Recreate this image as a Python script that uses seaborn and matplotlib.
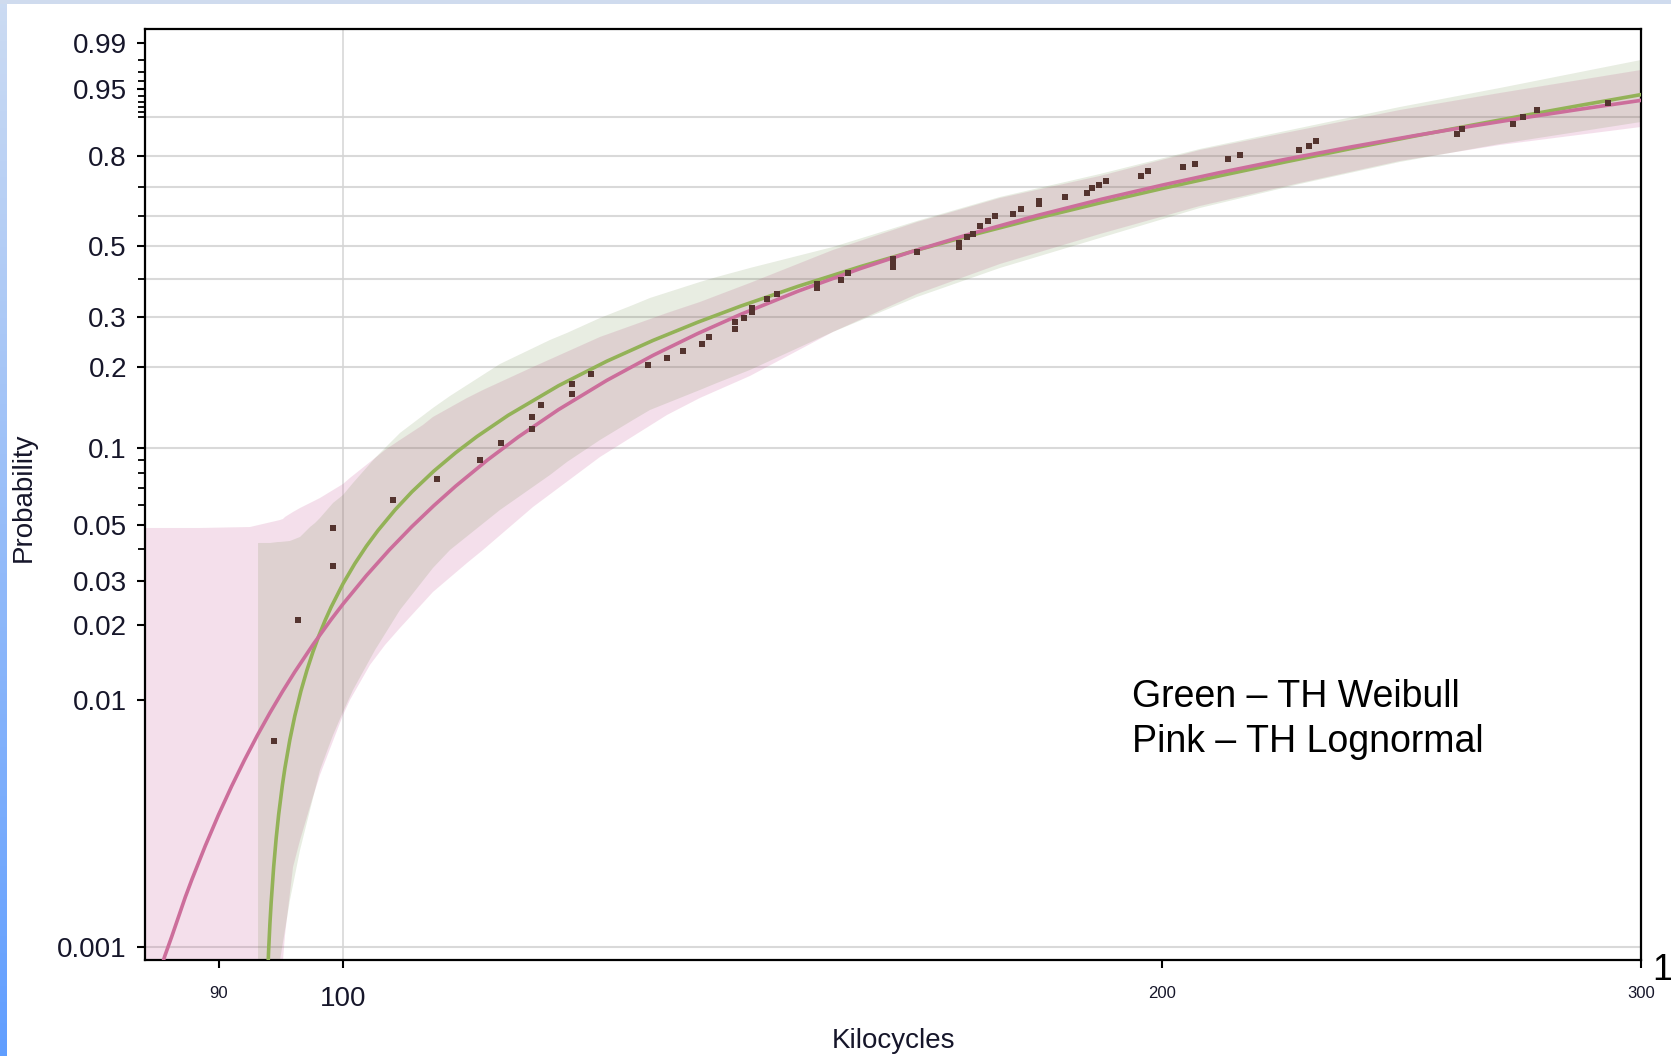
import numpy as np
import pandas as pd
import matplotlib
matplotlib.use("Agg")
import matplotlib.pyplot as plt
from matplotlib.ticker import FixedLocator, NullLocator, NullFormatter
import seaborn as sns

# ---------------------------------------------------------------- data
# failure times (kilocycles) with their plotting positions
fail_kc = [94.33, 96.26, 99.16, 99.16, 104.32, 108.28, 112.29, 114.31, 117.35, 117.35,
           118.24, 121.39, 121.39, 123.35, 129.45, 131.55, 133.34, 135.50, 136.31, 139.34,
           139.34, 140.41, 141.36, 141.36, 143.17, 144.38, 149.35, 149.35, 152.42, 153.32,
           159.28, 159.28, 159.28, 162.55, 168.43, 168.43, 169.57, 170.43, 171.45, 172.61,
           173.65, 176.31, 177.51, 180.23, 180.23, 184.24, 187.69, 188.49, 189.61, 190.74,
           196.47, 197.64, 203.58, 205.66, 211.48, 213.64, 224.59, 226.50, 227.85, 256.71,
           257.80, 269.17, 271.46, 274.69, 291.70]
fail_prob = [0.00681, 0.02092, 0.03438, 0.04865, 0.06271, 0.07576, 0.08973, 0.10434, 0.11801, 0.13102,
             0.14537, 0.15976, 0.17394, 0.18924, 0.20402, 0.21620, 0.22904, 0.24236, 0.25641, 0.27327,
             0.28867, 0.29780, 0.31199, 0.32170, 0.34442, 0.35752, 0.37370, 0.38473, 0.39600, 0.41618,
             0.43395, 0.44610, 0.45840, 0.48032, 0.49634, 0.50935, 0.52898, 0.53895, 0.56577, 0.58276,
             0.59979, 0.60666, 0.62376, 0.64100, 0.65127, 0.66491, 0.67860, 0.69551, 0.70564, 0.71898,
             0.73554, 0.75179, 0.76460, 0.77406, 0.78959, 0.80167, 0.81642, 0.82788, 0.84174, 0.86031,
             0.87278, 0.88469, 0.90032, 0.91468, 0.92775]

# fitted threshold-Weibull CDF
weib_kc = [93.8, 93.9, 94.0, 94.1, 94.3, 94.5, 94.7, 95.0, 95.2, 95.6, 96.0, 96.5, 97.0, 97.5,
           98.0, 98.5, 99.0, 100.0, 101.0, 102.0, 103.0, 104.5, 106.0, 108.0, 110.0, 112.0,
           115.0, 120.0, 125.0, 130.0, 135.0, 140.0, 147.0, 155.0, 162.0, 170.0, 180.0, 190.0,
           200.0, 210.0, 222.0, 235.0, 248.0, 260.0, 272.0, 285.0, 300.0]
weib_prob = [0.00072, 0.000971, 0.00124, 0.001515, 0.00211, 0.002755, 0.00344, 0.004525, 0.00529,
             0.006887, 0.00859, 0.010837, 0.01318, 0.015649, 0.018202, 0.02085, 0.02356, 0.02921,
             0.03510, 0.04123, 0.04753, 0.05731, 0.06745, 0.08137, 0.09571, 0.11040, 0.13291,
             0.17131, 0.21032, 0.24934, 0.28806, 0.32628, 0.37836, 0.43543, 0.48281, 0.53374,
             0.59252, 0.64575, 0.69350, 0.73594, 0.78044, 0.82137, 0.85559, 0.88193, 0.90391,
             0.92355, 0.94165]

# fitted threshold-lognormal CDF
logn_kc = [85.3, 85.6, 86.0, 86.5, 87.5, 88.0, 89.0, 90.0, 91.0, 92.0, 93.0, 94.0, 95.0, 96.0,
           97.5, 99.0, 100.0, 102.0, 104.0, 106.0, 108.0, 110.0, 113.0, 116.0, 120.0, 125.0,
           130.0, 135.0, 140.0, 147.0, 155.0, 162.0, 170.0, 180.0, 190.0, 200.0, 210.0, 222.0,
           235.0, 248.0, 260.0, 272.0, 285.0, 300.0]
logn_prob = [0.00068, 0.00078, 0.00092, 0.00110, 0.00159, 0.00188, 0.00257, 0.00343, 0.00447,
             0.00571, 0.00717, 0.00885, 0.01077, 0.01294, 0.01668, 0.02101, 0.02424, 0.03149,
             0.03984, 0.04925, 0.05963, 0.07100, 0.0897, 0.11008, 0.1396, 0.17918, 0.2208,
             0.26340, 0.3062, 0.36520, 0.4297, 0.48273, 0.5388, 0.60180, 0.6571, 0.70498,
             0.7465, 0.78843, 0.8260, 0.85662, 0.8798, 0.89911, 0.9163, 0.9323]

# confidence band of the Weibull fit
weib_band_kc = [93.06, 94.01, 94.65, 94.81, 95.61, 96.43, 97.25, 97.66, 98.07, 99.16, 100.0, 100.85,
                102.75, 104.94, 107.91, 109.48, 114.21, 119.15, 120.87, 124.30, 127.82, 129.67,
                135.27, 137.23, 141.12, 151.39, 162.55, 174.37, 189.77, 206.53, 224.77, 244.62,
                266.22, 300.0]
weib_band_lo = [1e-5, 1e-5, 1e-5, 0.000886, 0.00155, 0.00247, 0.00359, 0.00432, 0.00520, 0.00720,
                0.00892, 0.01094, 0.01585, 0.02294, 0.03375, 0.03981, 0.05728, 0.07851, 0.08815,
                0.10714, 0.12764, 0.13922, 0.16530, 0.17542, 0.19570, 0.26685, 0.34959, 0.43095,
                0.52568, 0.62722, 0.70899, 0.78031, 0.83350, 0.88929]
weib_band_hi = [0.04243, 0.04243, 0.04282, 0.04282, 0.04321, 0.04482, 0.04908, 0.05090, 0.05327,
                0.06102, 0.06559, 0.07308, 0.09134, 0.11394, 0.14166, 0.15705, 0.20567, 0.25029,
                0.26474, 0.29780, 0.32914, 0.34700, 0.39030, 0.40455, 0.43095, 0.49634, 0.58276,
                0.66491, 0.74205, 0.81932, 0.87521, 0.92043, 0.95131, 0.98025]

# confidence band of the lognormal fit
logn_band_kc = [84.57, 88.6, 92.43, 94.81, 95.05, 95.21, 95.86, 96.43, 97.41, 98.07, 100.0, 100.59,
                102.31, 103.62, 104.94, 107.00, 107.91, 111.07, 112.58, 117.45, 124.30, 131.55,
                135.27, 141.12, 151.39, 162.55, 174.37, 189.77, 206.53, 224.77, 244.62, 266.22, 300.0]
logn_band_lo = [1e-5, 1e-5, 1e-5, 1e-5, 0.000886, 0.00112, 0.00211, 0.00271, 0.00394, 0.00497,
                0.00867, 0.00997, 0.01380, 0.01660, 0.01943, 0.02447, 0.02707, 0.03534, 0.03981,
                0.05886, 0.09216, 0.13332, 0.15439, 0.18609, 0.26685, 0.35752, 0.44306, 0.53895,
                0.63408, 0.71237, 0.78341, 0.83068, 0.87766]
logn_band_hi = [0.04865, 0.04865, 0.04908, 0.05231, 0.05280, 0.05376, 0.05626, 0.05832, 0.06157,
                0.06384, 0.07242, 0.07644, 0.08815, 0.09806, 0.10714, 0.12221, 0.13102, 0.15439,
                0.16530, 0.20064, 0.25641, 0.30961, 0.33672, 0.38752, 0.48670, 0.57937, 0.66145,
                0.73554, 0.81642, 0.87032, 0.91468, 0.94412, 0.97199]

# axis ticks
y_ticks = [0.001, 0.01, 0.02, 0.03, 0.05, 0.1, 0.2, 0.3, 0.5, 0.8, 0.95, 0.99]
y_tick_labels = ["0.001", "0.01", "0.02", "0.03", "0.05", "0.1", "0.2", "0.3", "0.5", "0.8", "0.95", "0.99"]
y_minor_ticks = [0.04, 0.06, 0.07, 0.08, 0.09, 0.4, 0.6, 0.7, 0.9,
                 0.91, 0.92, 0.93, 0.94, 0.96, 0.97, 0.98]
y_grid = [0.001, 0.1, 0.2, 0.3, 0.4, 0.5, 0.6, 0.7, 0.8, 0.9]
x_ticks = [90, 100, 200, 300]
x_tick_labels = ["90", "100", "200", "300"]
x_limits = (84.57, 300.0)
y_limits = (0.000886, 0.9947)

# ---------------------------------------------------------------- style
sns.set_style("white")
plt.rcParams["font.family"] = ["Liberation Sans", "DejaVu Sans"]
plt.rcParams["axes.linewidth"] = 1.6

TEXT = "#16162a"
C_POINT = "#54342f"
C_WEIB = "#93b257"
C_LOGN = "#cc6e9b"


def weibull_fwd(p):
    p = np.clip(np.asarray(p, dtype=float), 1e-15, 1 - 1e-15)
    return np.log(-np.log1p(-p))


def weibull_inv(w):
    return -np.expm1(-np.exp(np.asarray(w, dtype=float)))


fig = plt.figure(figsize=(16.71, 10.56), dpi=100)
fig.patch.set_facecolor("white")

# slide frame: blue strip on the left, pale band on top
strip = fig.add_axes([0, 0, 7 / 1671, 1])
grad = np.linspace(0, 1, 256)[:, None]
top_rgb = np.array([0.80, 0.86, 0.95])
bot_rgb = np.array([0.38, 0.62, 1.00])
strip.imshow((top_rgb * (1 - grad) + bot_rgb * grad).reshape(256, 1, 3),
             aspect="auto", extent=[0, 1, 0, 1])
strip.set_axis_off()
topband = fig.add_axes([0, 1 - 4 / 1056, 1, 4 / 1056])
topband.set_facecolor("#cfdbee")
topband.set_xticks([])
topband.set_yticks([])
for s in topband.spines.values():
    s.set_visible(False)

ax = fig.add_axes([145 / 1671, 96 / 1056, 1496 / 1671, 931 / 1056])
ax.set_xscale("log")
ax.set_yscale("function", functions=(weibull_fwd, weibull_inv))

# grid
for g in y_grid:
    ax.axhline(g, color="#d9d9d9", lw=1.5, zorder=0.5)
ax.axvline(100, color="#d4d4d4", lw=1.1, zorder=0.5)

# confidence bands
ax.fill_between(logn_band_kc, logn_band_lo, logn_band_hi, color="#c85a96",
                alpha=0.19, linewidth=0, zorder=1)
ax.fill_between(weib_band_kc, weib_band_lo, weib_band_hi, color="#4e7420",
                alpha=0.13, linewidth=0, zorder=1.1)

# fitted lines
sns.lineplot(x=weib_kc, y=weib_prob, ax=ax, color=C_WEIB, lw=2.6,
             estimator=None, sort=False, zorder=3)
sns.lineplot(x=logn_kc, y=logn_prob, ax=ax, color=C_LOGN, lw=2.6,
             estimator=None, sort=False, zorder=3.1)

# observed failures
pts = pd.DataFrame({"kc": fail_kc, "prob": fail_prob})
sns.scatterplot(data=pts, x="kc", y="prob", ax=ax, marker="s", s=16,
                color=C_POINT, linewidth=0, zorder=5)

ax.set_xlim(*x_limits)
ax.set_ylim(*y_limits)

# y axis
ax.yaxis.set_major_locator(FixedLocator(y_ticks))
ax.set_yticklabels(y_tick_labels)
ax.yaxis.set_minor_locator(FixedLocator(y_minor_ticks))
ax.yaxis.set_minor_formatter(NullFormatter())
ax.tick_params(axis="y", which="major", left=True, length=6, width=1.5,
               direction="out", pad=7, labelsize=20, labelcolor=TEXT, color="black")
ax.tick_params(axis="y", which="minor", left=True, length=5, width=1.3,
               direction="out", color="black")

# x axis
ax.xaxis.set_major_locator(FixedLocator(x_ticks))
ax.set_xticklabels(x_tick_labels)
ax.xaxis.set_minor_locator(NullLocator())
ax.tick_params(axis="x", which="major", bottom=True, length=6, width=1.5,
               direction="out", pad=13, labelcolor=TEXT, color="black")
for lab in ax.get_xticklabels():
    lab.set_fontsize(20 if lab.get_text() == "100" else 12)

for s in ax.spines.values():
    s.set_visible(True)
    s.set_color("black")
    s.set_linewidth(1.6)

ax.set_xlabel("Kilocycles", fontsize=20, color=TEXT)
ax.xaxis.label.set_va("center")
ax.xaxis.set_label_coords(0.5, (960 - 1041) / 931)
ax.set_ylabel("Probability", fontsize=20, color=TEXT)
ax.yaxis.label.set_va("center")
ax.yaxis.set_label_coords((24 - 145) / 1496, (960 - 497) / 931)

# key
fig.text(1132 / 1671, 1 - 707 / 1056, "Green \u2013 TH Weibull", fontsize=27,
         color="black", va="baseline", ha="left")
fig.text(1132 / 1671, 1 - 752 / 1056, "Pink \u2013 TH Lognormal", fontsize=27,
         color="black", va="baseline", ha="left")
fig.text(1652 / 1671, 1 - 980 / 1056, "1", fontsize=26, color="black",
         va="baseline", ha="left")

fig.savefig("out.png", dpi=100, facecolor="white")
